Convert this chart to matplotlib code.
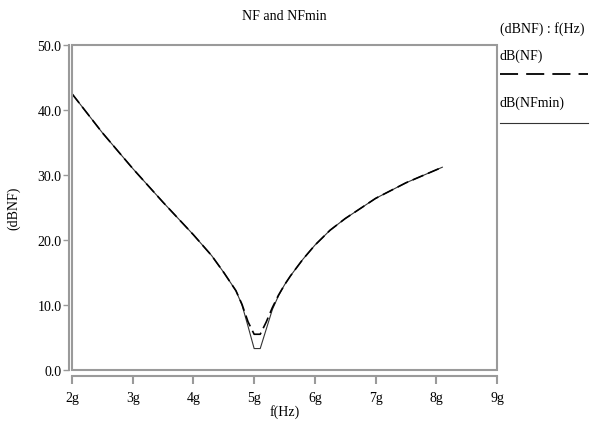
import matplotlib
matplotlib.use('Agg')
import matplotlib.pyplot as plt
from matplotlib.lines import Line2D
from matplotlib.patches import Rectangle

# frequency in GHz, values in dB
freq = [2.0, 2.5, 3.0, 3.5, 4.0, 4.3, 4.5, 4.7, 4.8, 4.9, 5.0, 5.1, 5.2, 5.3,
        5.4, 5.5, 5.6, 5.8, 6.0, 6.25, 6.5, 7.0, 7.5, 8.0, 8.1]
nf = [42.5, 36.5, 31.0, 25.8, 20.8, 17.6, 15.0, 12.2, 10.1, 7.4, 5.5, 5.5, 7.4, 9.6,
      11.5, 13.1, 14.5, 17.0, 19.2, 21.5, 23.3, 26.4, 28.8, 30.8, 31.2]
nfmin = [42.5, 36.5, 31.0, 25.8, 20.8, 17.6, 15.0, 12.2, 10.0, 6.7, 3.3, 3.3, 6.3, 9.3,
         11.4, 13.1, 14.5, 17.0, 19.2, 21.5, 23.3, 26.4, 28.8, 30.8, 31.2]
xticks = [2, 3, 4, 5, 6, 7, 8, 9]
yticks = [0, 10, 20, 30, 40, 50]

plt.rcParams['font.family'] = ['Liberation Serif', 'DejaVu Serif']
plt.rcParams['font.size'] = 10
gray = '#9a9a9a'

fig = plt.figure(figsize=(5.95, 4.27), dpi=100)
ax = fig.add_axes([72/595, 1-371/427, 425/595, 325/427])

ax.plot(freq, nfmin, color='#333333', lw=0.8)
ax.plot(freq, nf, color='black', lw=1.2, dashes=(7, 3))

ax.set_xlim(2, 9)
ax.set_ylim(0, 50)
ax.set_xticks(xticks)
ax.set_xticklabels([f'{t}g' for t in xticks])
ax.set_yticks(yticks)
ax.set_yticklabels([f'{t:.1f}' for t in yticks])

# box around plot area
ax.add_patch(Rectangle((0, 0), 1, 1, transform=ax.transAxes, fill=False,
                       edgecolor=gray, lw=1.5, clip_on=False, zorder=3))
for s in ['top', 'right']:
    ax.spines[s].set_visible(False)
ax.spines['left'].set_position(('outward', 2.2))
ax.spines['bottom'].set_position(('outward', 4.3))
for s in ['left', 'bottom']:
    ax.spines[s].set_color(gray)
    ax.spines[s].set_linewidth(1.5)
ax.tick_params(axis='y', length=4.3, width=1.0, color=gray, pad=1)
ax.tick_params(axis='x', length=5.8, width=1.5, color=gray, pad=5)

ax.set_title('NF and NFmin', fontsize=10, pad=19)
ax.set_xlabel('f(Hz)', labelpad=0)
ax.set_ylabel('(dBNF)', labelpad=12)

# legend on the right
fig.text(500/595, 1-29/427, '(dBNF) : f(Hz)', va='center', ha='left')
fig.text(500/595, 1-56/427, 'dB(NF)', va='center', ha='left')
fig.text(500/595, 1-103/427, 'dB(NFmin)', va='center', ha='left')
fig.add_artist(Line2D([500/595, 588/595], [1-75/427, 1-75/427], color='black',
                      lw=1.3, dashes=(10, 4.5)))
fig.add_artist(Line2D([500/595, 588/595], [1-124/427, 1-124/427], color='#333333',
                      lw=0.8))

fig.savefig('out.png', dpi=100)
